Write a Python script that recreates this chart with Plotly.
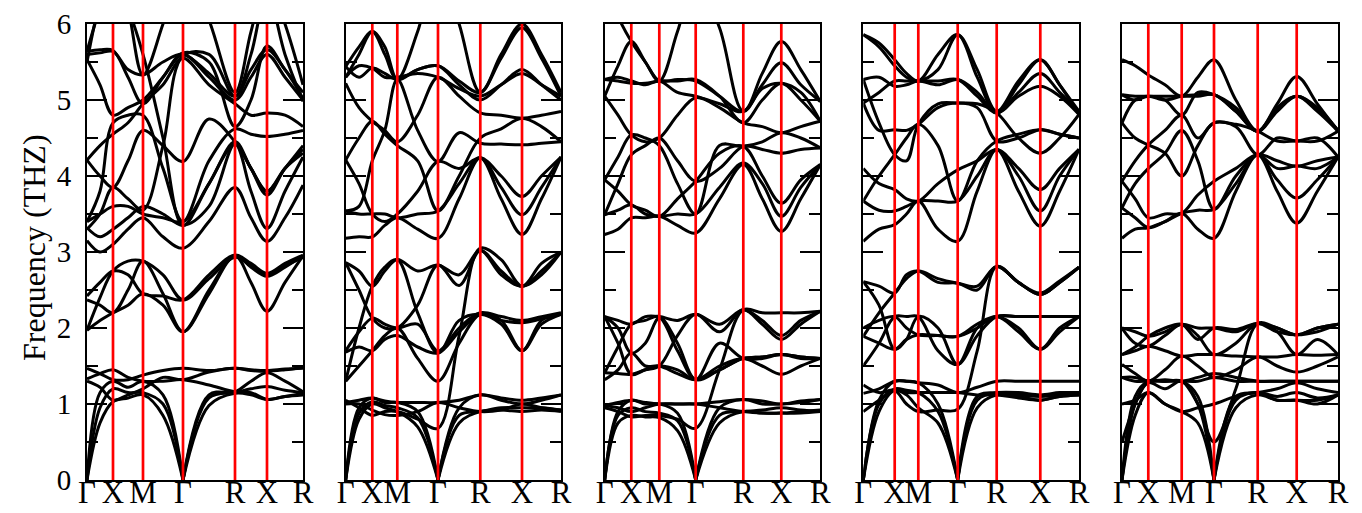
import plotly.graph_objects as go

# ---------------- data ----------------
K_LABELS = ["Γ", "X", "M", "Γ", "R", "X", "R"]
Y_TICKS = [0, 1, 2, 3, 4, 5, 6]
Y_TITLE = "Frequency (THZ)"

# path distance of the high-symmetry points in each panel
KPOS_P1 = [0, 26, 56, 96, 148, 180, 216]
KPOS_P2 = [0, 26.6, 51.6, 92.3, 134.6, 176.3, 215.3]
KPOS_P3 = [0, 26.6, 54.6, 91.0, 138.6, 176.6, 215.6]
KPOS_P4 = [0, 31.4, 55.0, 94.4, 133.4, 177.0, 215.7]
KPOS_P5 = [0, 26.3, 59.7, 92.0, 135.7, 174.7, 216.0]

# band frequencies (THz) read at each high-symmetry point and at the middle of each segment:
# [Γ, ., X, ., M, ., Γ, ., R, ., X, ., R]
P1_BANDS = [
    [0, 0.75, 1.03, 1.08, 1.12, 0.85, 0, 0.98, 1.14, 1.12, 1.06, 1.10, 1.12],
    [0, 0.95, 1.20, 1.15, 1.15, 1.00, 0, 1.08, 1.15, 1.20, 1.23, 1.18, 1.15],
    [0, 1.15, 1.30, 1.22, 1.30, 1.12, 0, 1.12, 1.16, 1.30, 1.41, 1.30, 1.16],
    [1.47, 1.40, 1.32, 1.32, 1.38, 1.44, 1.47, 1.44, 1.47, 1.44, 1.43, 1.45, 1.48],
    [1.33, 1.40, 1.45, 1.35, 1.30, 1.30, 1.32, 1.25, 1.16, 1.15, 1.06, 1.10, 1.14],
    [1.30, 1.22, 1.05, 1.12, 1.20, 1.35, 1.32, 1.42, 1.47, 1.45, 1.44, 1.46, 1.47],
    [1.97, 2.10, 2.20, 2.30, 2.45, 2.30, 1.95, 2.50, 2.95, 2.60, 2.22, 2.60, 2.95],
    [2.37, 2.30, 2.20, 2.50, 2.88, 2.45, 1.95, 2.45, 2.95, 2.80, 2.68, 2.80, 2.95],
    [2.42, 2.60, 2.75, 2.70, 2.45, 2.42, 2.37, 2.70, 2.96, 2.85, 2.72, 2.85, 2.96],
    [1.97, 2.40, 2.75, 2.88, 2.88, 2.70, 2.37, 2.65, 2.93, 2.82, 2.70, 2.82, 2.93],
    [3.15, 3.00, 3.10, 3.30, 3.45, 3.20, 3.05, 3.40, 3.85, 3.45, 3.14, 3.45, 3.88],
    [3.32, 3.20, 3.30, 3.45, 3.60, 3.50, 3.35, 3.60, 4.42, 3.80, 3.31, 3.80, 4.25],
    [3.40, 3.50, 3.60, 3.60, 3.50, 3.45, 3.40, 3.90, 4.45, 4.10, 3.80, 4.10, 4.40],
    [4.21, 4.00, 3.85, 4.20, 4.60, 4.40, 4.19, 4.75, 4.45, 4.10, 3.75, 4.10, 4.35],
    [3.40, 3.80, 4.70, 4.80, 4.80, 4.10, 3.40, 4.20, 4.62, 4.55, 4.52, 4.55, 4.60],
    [4.21, 4.40, 4.55, 4.70, 4.95, 5.20, 5.55, 5.20, 4.95, 4.80, 4.83, 4.80, 4.65],
    [5.53, 5.20, 4.80, 4.90, 5.00, 5.30, 5.60, 5.30, 5.00, 5.30, 5.60, 5.30, 5.00],
    [5.60, 5.62, 5.64, 5.40, 5.33, 5.50, 5.60, 5.35, 5.05, 5.40, 5.66, 5.40, 5.02],
    [5.64, 5.66, 5.65, 5.30, 4.95, 5.30, 5.62, 5.50, 4.65, 5.00, 5.71, 5.40, 5.10],
    [5.50, 6.30, 6.80, 6.20, 5.33, 6.00, 6.80, 6.05, 5.10, 5.90, 6.60, 6.00, 5.20],
    [5.64, 6.20, 6.60, 6.20, 5.60, 4.50, 3.35, 3.90, 4.42, 4.10, 3.80, 4.10, 4.30],
    [3.30, 3.50, 3.85, 3.70, 3.55, 4.40, 5.58, 5.60, 5.05, 5.60, 6.40, 5.60, 4.98],
]

P2_BANDS = [
    [0, 0.80, 1.00, 0.95, 0.90, 0.70, 0, 0.75, 0.90, 0.92, 0.90, 0.92, 0.90],
    [0, 0.88, 1.03, 0.98, 0.95, 0.82, 0, 0.85, 0.90, 0.95, 0.95, 0.95, 0.92],
    [0, 0.95, 1.08, 1.02, 1.02, 0.90, 0, 0.95, 1.12, 1.05, 1.00, 1.05, 1.12],
    [1.02, 1.05, 1.08, 1.04, 1.02, 1.02, 1.02, 1.05, 1.12, 1.08, 1.05, 1.08, 1.12],
    [1.00, 1.00, 0.92, 0.86, 0.85, 0.90, 1.02, 0.95, 0.90, 0.92, 1.00, 0.95, 0.92],
    [1.05, 0.95, 0.85, 0.90, 0.90, 0.80, 0.68, 1.90, 3.05, 2.90, 2.55, 2.85, 3.00],
    [1.30, 1.50, 1.70, 1.90, 2.00, 1.60, 1.30, 1.80, 2.18, 2.10, 1.70, 2.10, 2.18],
    [1.68, 1.75, 1.70, 1.85, 1.90, 1.75, 1.67, 1.95, 2.18, 2.10, 2.07, 2.12, 2.18],
    [1.70, 1.95, 2.13, 2.05, 2.00, 2.05, 1.70, 2.00, 2.20, 2.15, 2.10, 2.15, 2.20],
    [2.86, 2.50, 2.13, 2.00, 2.00, 2.30, 2.83, 2.56, 3.02, 2.70, 2.55, 2.70, 3.00],
    [2.86, 2.75, 2.55, 2.75, 2.90, 2.75, 2.83, 2.70, 3.02, 2.75, 2.55, 2.75, 3.00],
    [1.30, 2.00, 2.55, 2.80, 2.90, 2.20, 1.67, 2.10, 2.18, 2.05, 1.70, 2.05, 2.18],
    [3.18, 3.20, 3.20, 3.35, 3.45, 3.30, 3.18, 3.70, 4.24, 3.70, 3.23, 3.70, 4.25],
    [3.54, 3.50, 3.50, 3.50, 3.45, 3.50, 3.54, 3.90, 4.24, 3.85, 3.49, 3.85, 4.25],
    [4.21, 3.90, 3.50, 3.40, 3.50, 3.80, 4.19, 4.10, 4.24, 4.00, 3.73, 4.00, 4.25],
    [3.54, 3.60, 4.20, 4.60, 5.27, 4.60, 4.19, 4.57, 4.43, 4.42, 4.41, 4.43, 4.45],
    [4.21, 4.50, 4.72, 4.55, 4.40, 4.20, 3.54, 4.00, 4.50, 4.62, 4.76, 4.65, 4.45],
    [5.22, 4.90, 4.72, 4.60, 4.45, 4.80, 5.30, 5.05, 4.83, 4.80, 4.76, 4.80, 4.85],
    [5.44, 5.30, 5.42, 5.35, 5.27, 5.40, 5.45, 5.20, 5.00, 5.20, 5.40, 5.20, 5.00],
    [5.30, 5.45, 5.42, 5.30, 5.30, 5.35, 5.30, 5.15, 5.05, 5.20, 5.35, 5.20, 5.05],
    [5.44, 5.70, 5.90, 5.60, 5.27, 5.40, 5.45, 5.25, 5.10, 5.60, 6.00, 5.60, 5.10],
    [5.30, 5.60, 5.90, 5.70, 5.27, 5.90, 6.80, 6.00, 5.10, 5.55, 5.95, 5.55, 5.05],
]

P3_BANDS = [
    [0, 0.75, 0.85, 0.83, 0.82, 0.65, 0, 0.75, 0.90, 0.88, 0.88, 0.88, 0.90],
    [0, 0.85, 0.95, 0.90, 0.88, 0.78, 0, 0.85, 0.90, 0.92, 0.95, 0.92, 0.90],
    [0, 0.90, 1.05, 1.00, 1.00, 0.88, 0, 0.95, 1.06, 1.00, 1.00, 1.02, 1.06],
    [0.98, 1.02, 1.05, 1.02, 1.00, 1.00, 1.00, 1.03, 1.06, 1.04, 1.00, 1.04, 1.06],
    [0.95, 0.90, 0.83, 0.85, 0.85, 0.80, 0.68, 1.45, 2.24, 2.20, 2.20, 2.20, 2.22],
    [0.98, 0.95, 0.90, 0.95, 1.00, 1.00, 1.00, 0.95, 0.90, 0.88, 0.88, 0.90, 0.92],
    [1.32, 1.45, 1.67, 1.50, 1.50, 1.40, 1.32, 1.45, 1.60, 1.62, 1.65, 1.62, 1.60],
    [1.41, 1.40, 1.39, 1.45, 1.50, 1.45, 1.32, 1.50, 1.60, 1.50, 1.39, 1.50, 1.60],
    [2.15, 1.80, 1.39, 1.45, 1.50, 1.90, 2.18, 1.95, 2.24, 2.05, 1.85, 2.05, 2.22],
    [2.15, 2.10, 2.05, 2.15, 2.15, 2.10, 2.18, 2.05, 2.24, 2.10, 1.90, 2.10, 2.22],
    [1.41, 1.75, 2.05, 2.10, 2.15, 1.80, 1.32, 1.80, 1.60, 1.60, 1.65, 1.60, 1.60],
    [2.15, 2.00, 1.67, 1.80, 2.13, 1.70, 1.32, 1.45, 1.60, 1.62, 1.65, 1.62, 1.60],
    [3.23, 3.30, 3.45, 3.45, 3.47, 3.35, 3.25, 3.70, 4.15, 3.70, 3.27, 3.70, 4.15],
    [3.49, 3.55, 3.62, 3.50, 3.47, 3.50, 3.50, 3.85, 4.17, 3.90, 3.47, 3.85, 4.15],
    [3.95, 3.80, 3.62, 3.55, 3.47, 3.70, 3.93, 4.30, 4.39, 4.00, 3.64, 3.95, 4.15],
    [3.49, 3.90, 4.28, 4.40, 4.50, 4.20, 3.93, 4.10, 4.39, 4.35, 4.30, 4.35, 4.37],
    [3.95, 4.25, 4.54, 4.50, 4.40, 3.90, 3.50, 4.40, 4.39, 4.45, 4.57, 4.50, 4.37],
    [5.05, 4.80, 4.54, 4.45, 4.50, 4.80, 5.03, 4.90, 4.70, 4.65, 4.57, 4.65, 4.72],
    [5.27, 5.25, 5.22, 5.22, 5.25, 5.25, 5.27, 5.05, 4.70, 5.00, 5.22, 5.00, 4.72],
    [5.27, 5.30, 5.25, 5.20, 5.25, 5.10, 5.05, 4.95, 4.85, 5.20, 5.49, 5.20, 4.98],
    [5.05, 5.45, 5.77, 5.50, 5.25, 5.27, 5.25, 5.05, 4.85, 5.35, 5.77, 5.40, 4.98],
    [6.60, 6.10, 5.77, 5.50, 5.25, 5.90, 6.60, 5.95, 4.85, 5.15, 5.22, 5.10, 4.72],
]

P4_BANDS = [
    [0, 0.90, 1.18, 1.12, 0.95, 0.75, 0, 0.95, 1.12, 1.10, 1.05, 1.10, 1.12],
    [0, 1.00, 1.20, 1.18, 1.15, 0.90, 0, 1.05, 1.14, 1.12, 1.10, 1.12, 1.14],
    [0, 1.05, 1.30, 1.30, 1.28, 1.00, 0, 1.10, 1.15, 1.15, 1.12, 1.15, 1.15],
    [1.14, 1.20, 1.30, 1.30, 1.28, 1.25, 1.15, 1.22, 1.30, 1.30, 1.30, 1.30, 1.30],
    [0.90, 1.05, 1.18, 1.15, 1.15, 1.15, 1.15, 1.12, 1.12, 1.08, 1.05, 1.10, 1.12],
    [1.25, 1.15, 1.18, 1.00, 0.90, 0.92, 0.93, 1.70, 2.81, 2.60, 2.44, 2.60, 2.80],
    [1.50, 1.80, 2.15, 2.15, 2.15, 1.70, 1.52, 1.90, 2.15, 2.15, 2.15, 2.15, 2.15],
    [1.89, 1.80, 1.72, 1.85, 1.91, 1.90, 1.89, 2.00, 2.15, 1.95, 1.72, 1.95, 2.15],
    [2.00, 2.10, 2.15, 2.00, 1.91, 1.90, 1.89, 2.05, 2.15, 2.00, 1.72, 2.00, 2.15],
    [2.61, 2.30, 1.72, 1.85, 2.15, 2.00, 1.52, 2.00, 2.15, 2.15, 2.15, 2.15, 2.15],
    [2.61, 2.55, 2.46, 2.70, 2.75, 2.60, 2.59, 2.50, 2.81, 2.60, 2.44, 2.60, 2.80],
    [1.89, 2.20, 2.46, 2.65, 2.75, 2.65, 2.59, 2.55, 2.81, 2.60, 2.46, 2.62, 2.80],
    [3.14, 3.30, 3.36, 3.50, 3.67, 3.30, 3.14, 3.80, 4.35, 3.80, 3.34, 3.80, 4.35],
    [3.67, 3.55, 3.54, 3.60, 3.67, 3.67, 3.67, 4.00, 4.35, 4.00, 3.54, 4.00, 4.35],
    [4.10, 3.90, 3.82, 3.70, 3.67, 3.90, 4.08, 4.20, 4.35, 4.10, 3.82, 4.10, 4.35],
    [3.67, 4.00, 4.28, 4.50, 4.68, 4.40, 3.67, 4.20, 4.46, 4.55, 4.61, 4.55, 4.50],
    [4.96, 4.60, 4.61, 4.60, 4.68, 4.90, 4.96, 4.90, 4.46, 4.50, 4.61, 4.55, 4.50],
    [5.27, 4.70, 4.28, 4.20, 4.68, 4.95, 4.96, 4.95, 4.83, 4.50, 4.30, 4.50, 4.81],
    [5.27, 5.30, 5.18, 5.20, 5.25, 5.20, 5.27, 5.10, 4.83, 5.05, 5.18, 5.05, 4.81],
    [4.96, 5.10, 5.25, 5.25, 5.25, 5.25, 5.27, 5.05, 4.83, 5.10, 5.35, 5.10, 4.85],
    [5.86, 5.75, 5.53, 5.35, 5.25, 5.60, 5.86, 5.30, 4.83, 5.20, 5.53, 5.20, 4.85],
    [5.86, 5.70, 5.45, 5.30, 5.25, 5.40, 5.86, 5.40, 4.85, 5.25, 5.53, 5.20, 4.81],
]

P5_BANDS = [
    [0, 0.85, 1.15, 1.00, 0.90, 0.75, 0, 0.95, 1.12, 1.05, 1.05, 1.05, 1.12],
    [0, 1.00, 1.28, 1.20, 1.30, 1.00, 0, 1.05, 1.15, 1.10, 1.15, 1.08, 1.12],
    [0, 1.10, 1.30, 1.30, 1.30, 1.10, 0, 1.10, 1.15, 1.20, 1.28, 1.20, 1.15],
    [0.50, 1.00, 1.30, 1.30, 1.30, 1.00, 0.50, 1.20, 2.06, 2.00, 1.91, 2.00, 2.05],
    [1.00, 1.05, 1.15, 1.00, 0.90, 0.95, 1.00, 1.10, 1.15, 1.05, 1.05, 1.00, 1.12],
    [1.35, 1.30, 1.30, 1.30, 1.30, 1.30, 1.35, 1.30, 1.30, 1.30, 1.30, 1.30, 1.30],
    [1.35, 1.35, 1.30, 1.32, 1.30, 1.35, 1.40, 1.35, 1.30, 1.30, 1.30, 1.30, 1.30],
    [1.52, 1.40, 1.30, 1.45, 1.63, 1.50, 1.35, 1.45, 1.62, 1.50, 1.42, 1.50, 1.62],
    [1.65, 1.70, 1.76, 1.70, 1.63, 1.65, 1.65, 1.63, 1.62, 1.62, 1.65, 1.64, 1.65],
    [2.00, 1.80, 1.76, 1.90, 2.05, 1.90, 1.65, 1.80, 2.06, 1.95, 1.65, 1.85, 1.65],
    [2.00, 1.95, 1.89, 1.95, 2.05, 2.00, 2.00, 1.95, 2.06, 1.95, 1.91, 1.95, 2.05],
    [1.65, 1.75, 1.89, 2.00, 2.05, 1.85, 2.00, 1.98, 2.06, 2.00, 1.91, 2.00, 2.05],
    [3.18, 3.30, 3.32, 3.40, 3.51, 3.30, 3.18, 3.80, 4.28, 3.80, 3.38, 3.80, 4.25],
    [3.58, 3.45, 3.32, 3.40, 3.51, 3.55, 3.56, 3.90, 4.28, 3.95, 3.71, 3.95, 4.25],
    [3.93, 3.70, 3.45, 3.50, 3.51, 3.75, 3.93, 4.10, 4.28, 4.10, 4.13, 4.10, 4.25],
    [3.58, 3.90, 4.10, 4.30, 4.60, 4.20, 3.56, 4.00, 4.28, 4.20, 4.13, 4.20, 4.25],
    [3.93, 4.20, 4.41, 4.60, 4.80, 4.50, 4.70, 4.68, 4.59, 4.46, 4.46, 4.46, 4.59],
    [4.70, 4.50, 4.41, 4.30, 4.00, 4.40, 4.70, 4.65, 4.28, 4.50, 4.46, 4.50, 4.25],
    [5.07, 5.00, 5.05, 5.00, 5.05, 5.07, 5.07, 4.85, 4.59, 4.85, 5.05, 4.85, 4.59],
    [5.07, 5.05, 5.05, 5.05, 5.05, 5.05, 5.07, 4.85, 4.59, 4.90, 5.05, 4.90, 4.60],
    [5.53, 5.45, 5.33, 5.20, 5.05, 5.30, 5.53, 5.00, 4.59, 4.95, 5.31, 4.95, 4.59],
    [4.70, 5.00, 5.05, 5.00, 4.80, 5.10, 5.07, 4.90, 4.59, 4.88, 5.05, 4.88, 4.60],
]

PANELS = [
    (KPOS_P1, P1_BANDS),
    (KPOS_P2, P2_BANDS),
    (KPOS_P3, P3_BANDS),
    (KPOS_P4, P4_BANDS),
    (KPOS_P5, P5_BANDS),
]

# ---------------- layout geometry ----------------
W, H = 1362, 513
PANEL_PX = [(79, 295), (337.7, 553), (596.7, 812.3), (855.3, 1071), (1114, 1330)]
Y_TOP_PX, Y_BOT_PX = 16, 472
FONT = "Liberation Serif"

fig = go.Figure()
layout = dict(
    width=W, height=H,
    margin=dict(l=0, r=0, t=0, b=0),
    paper_bgcolor="white", plot_bgcolor="white",
    showlegend=False,
    font=dict(family=FONT, color="black"),
)

ymin, ymax = Y_TICKS[0], Y_TICKS[-1]

for i, (kpos, bands) in enumerate(PANELS):
    sfx = "" if i == 0 else str(i + 1)
    xs = []
    for a, b in zip(kpos[:-1], kpos[1:]):
        xs += [a, (a + b) / 2]
    xs.append(kpos[-1])

    for band in bands:
        cuts = [0] + [j for j in range(1, len(band) - 1) if band[j] == 0] + [len(band) - 1]
        for s, e in zip(cuts[:-1], cuts[1:]):
            fig.add_trace(go.Scatter(
                x=xs[s:e + 1], y=band[s:e + 1], mode="lines",
                line=dict(color="black", width=3, shape="spline", smoothing=1.0),
                xaxis="x" + sfx, yaxis="y" + sfx, hoverinfo="skip",
            ))
    for k in kpos[1:-1]:
        fig.add_trace(go.Scatter(
            x=[k, k], y=[ymin, ymax], mode="lines",
            line=dict(color="#ff0000", width=2.7),
            xaxis="x" + sfx, yaxis="y" + sfx, hoverinfo="skip",
        ))

    x0, x1 = PANEL_PX[i]
    layout["xaxis" + sfx] = dict(
        domain=[x0 / W, x1 / W], range=[kpos[0], kpos[-1]], anchor="y" + sfx,
        tickmode="array", tickvals=kpos, ticktext=K_LABELS, ticks="",
        tickangle=0, ticklabelstandoff=-16,
        showgrid=False, zeroline=False, showline=True, mirror=True,
        linecolor="black", linewidth=2, automargin=False,
        tickfont=dict(family=FONT, size=31, color="black"),
    )
    layout["yaxis" + sfx] = dict(
        domain=[1 - Y_BOT_PX / H, 1 - Y_TOP_PX / H], range=[ymin, ymax], anchor="x" + sfx,
        tickmode="array", tickvals=Y_TICKS, ticks="inside", ticklen=20, tickwidth=2,
        tickcolor="black",
        minor=dict(dtick=0.5, tick0=0, ticks="inside", ticklen=11, tickwidth=2,
                   tickcolor="black", showgrid=False),
        showticklabels=(i == 0), ticklabelstandoff=8,
        showgrid=False, zeroline=False, showline=True, mirror="ticks",
        linecolor="black", linewidth=2, automargin=False,
        tickfont=dict(family=FONT, size=29, color="black"),
    )

layout["annotations"] = [dict(
    text=Y_TITLE, textangle=-90, showarrow=False,
    xref="paper", yref="paper", x=26 / W, y=1 - 240 / H,
    xanchor="center", yanchor="middle",
    font=dict(family=FONT, size=32, color="black"),
)]

fig.update_layout(**layout)
fig.write_html("out.html")
